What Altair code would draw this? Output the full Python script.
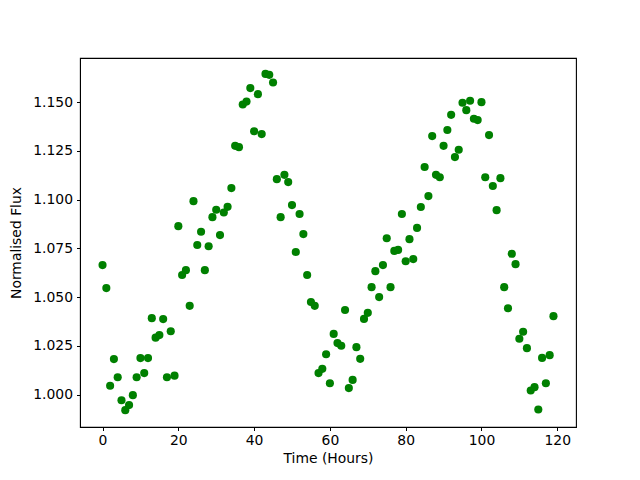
import altair as alt
import pandas as pd

hours = list(range(120))
flux = [
    1.0664, 1.0546, 1.0045, 1.0182, 1.0089, 0.9971, 0.9920, 0.9946, 0.9997, 1.0089,
    1.0187, 1.0110, 1.0187, 1.0392, 1.0292, 1.0305, 1.0387, 1.0089, 1.0325, 1.0097,
    1.0864, 1.0613, 1.0638, 1.0455, 1.0992, 1.0767, 1.0835, 1.0638, 1.0761, 1.0910,
    1.0948, 1.0818, 1.0934, 1.0963, 1.1059, 1.1276, 1.1269, 1.1488, 1.1503, 1.1572,
    1.1351, 1.1541, 1.1336, 1.1645, 1.1640, 1.1601, 1.1105, 1.0910, 1.1127, 1.1090,
    1.0972, 1.0731, 1.0926, 1.0823, 1.0613, 1.0475, 1.0455, 1.0110, 1.0132, 1.0207,
    1.0058, 1.0311, 1.0264, 1.0250, 1.0434, 1.0033, 1.0075, 1.0243, 1.0183, 1.0388,
    1.0419, 1.0551, 1.0633, 1.0500, 1.0664, 1.0802, 1.0551, 1.0737, 1.0742, 1.0926,
    1.0684, 1.0797, 1.0695, 1.0855, 1.0962, 1.1167, 1.1018, 1.1326, 1.1127, 1.1115,
    1.1276, 1.1357, 1.1435, 1.1218, 1.1256, 1.1497, 1.1459, 1.1507, 1.1415, 1.1408,
    1.1500, 1.1115, 1.1331, 1.1070, 1.0946, 1.1110, 1.0551, 1.0443, 1.0722, 1.0669,
    1.0286, 1.0322, 1.0238, 1.0021, 1.0038, 0.9923, 1.0188, 1.0058, 1.0202, 1.0402,
]
x_ticks = [0, 20, 40, 60, 80, 100, 120]
y_ticks = [1.000, 1.025, 1.050, 1.075, 1.100, 1.125, 1.150]

df = pd.DataFrame({"hours": hours, "flux": flux})

font = "DejaVu Sans"
fs = 13.9

chart = alt.Chart(df).mark_circle(size=66, color="#008000", opacity=1).encode(
    x=alt.X("hours:Q", title="Time (Hours)",
            scale=alt.Scale(domain=[-5.95, 124.95], nice=False, zero=False),
            axis=alt.Axis(values=x_ticks, format="d", grid=False, tickSize=3.5,
                          tickColor="black", domainColor="black", labelColor="black",
                          labelFont=font, labelFontSize=fs, titleFont=font,
                          titleFontSize=fs, titleFontWeight="normal", titleColor="black",
                          labelPadding=3, titlePadding=4, labelFlush=False)),
    y=alt.Y("flux:Q", title="Normalised Flux",
            scale=alt.Scale(domain=[0.98335, 1.17265], nice=False, zero=False),
            axis=alt.Axis(values=y_ticks, format=".3f", grid=False, tickSize=3.5,
                          tickColor="black", domainColor="black", labelColor="black",
                          labelFont=font, labelFontSize=fs, titleFont=font,
                          titleFontSize=fs, titleFontWeight="normal", titleColor="black",
                          labelPadding=4, titlePadding=9, labelFlush=False)),
).properties(
    width=496, height=369,
    autosize=alt.AutoSizeParams(type="none"),
    padding={"left": 72, "top": 50, "right": 56, "bottom": 45},
).configure_view(stroke="black", strokeWidth=1.1)

chart.save("out.html", embed_options={"renderer": "svg", "actions": False})
